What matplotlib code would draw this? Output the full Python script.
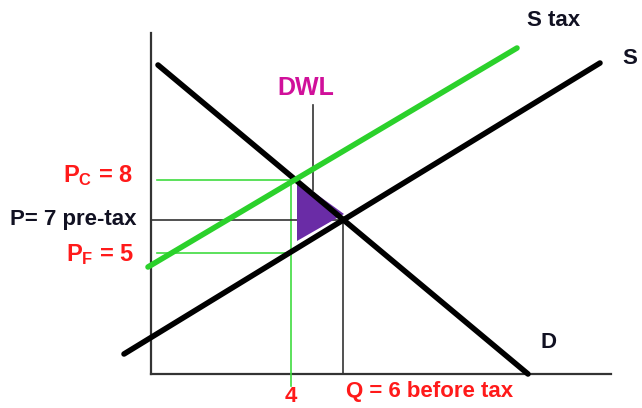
import matplotlib.pyplot as plt
from matplotlib.patches import Polygon

plt.rcParams['font.family'] = ['Liberation Sans', 'DejaVu Sans']
plt.rcParams['font.weight'] = 'bold'
plt.rcParams['mathtext.fontset'] = 'custom'
plt.rcParams['mathtext.rm'] = 'Liberation Sans:bold'
plt.rcParams['mathtext.default'] = 'rm'

# diagram units (schematic, y up)
demand_x = [158, 528]
demand_y = [343, 34]
supply_x = [124, 600]
supply_y = [54, 345]
stax_x = [148, 517]
stax_y = [141, 360]

q_tax, q_pre = 291, 343
p_cons, p_pre, p_prod = 228, 188, 155

dwl_x = [297, 297, 344]
dwl_y = [228, 167, 194]

red = '#ff1a1a'
green = '#2bd12b'
thin_green = '#3fdc3f'
ink = '#111122'

fig = plt.figure(figsize=(6.42, 4.08), dpi=100)
ax = fig.add_axes([0, 0, 1, 1])
ax.set_xlim(0, 642)
ax.set_ylim(0, 408)
ax.axis('off')

# axes of the diagram
ax.plot([151, 151], [34, 375], color='#333333', lw=1.6)
ax.plot([151, 611], [34, 34], color='#333333', lw=1.6)

# guide lines
ax.plot([157, q_tax + 6], [p_cons, p_cons], color=thin_green, lw=1.2)
ax.plot([157, q_tax], [p_prod, p_prod], color=thin_green, lw=1.2)
ax.plot([q_tax, q_tax], [22, p_cons], color=thin_green, lw=1.2)
ax.plot([151, q_pre], [p_pre, p_pre], color='#333333', lw=1.2)
ax.plot([q_pre, q_pre], [34, p_pre], color='#333333', lw=1.2)
ax.plot([313, 313], [218, 303], color='#333333', lw=1.2)

# dead weight loss triangle
ax.add_patch(Polygon(list(zip(dwl_x, dwl_y)), closed=True,
                     facecolor='#6a2ca6', edgecolor='none', zorder=2))

ax.plot(demand_x, demand_y, color='black', lw=4, solid_capstyle='round', zorder=3)
ax.plot(supply_x, supply_y, color='black', lw=4, solid_capstyle='round', zorder=3)
ax.plot(stax_x, stax_y, color=green, lw=4, solid_capstyle='round', zorder=4)

ax.text(554, 388, 'S tax', color=ink, fontsize=16, ha='center', va='center')
ax.text(630, 349, 'S', color=ink, fontsize=16, ha='center', va='center')
ax.text(549, 65, 'D', color=ink, fontsize=16, ha='center', va='center')
ax.text(306, 320, 'DWL', color='#d0109a', fontsize=18, ha='center', va='center')

ax.text(133, 232, r'P$_\mathrm{C}$ = 8', color=red, fontsize=17, ha='right', va='center')
ax.text(137, 189, 'P= 7 pre-tax', color=ink, fontsize=16, ha='right', va='center')
ax.text(134, 153, r'P$_\mathrm{F}$ = 5', color=red, fontsize=17, ha='right', va='center')
ax.text(291, 11, '4', color=red, fontsize=16, ha='center', va='center')
ax.text(346, 17, 'Q = 6 before tax', color=red, fontsize=16, ha='left', va='center')

plt.savefig('out.png', dpi=100)
